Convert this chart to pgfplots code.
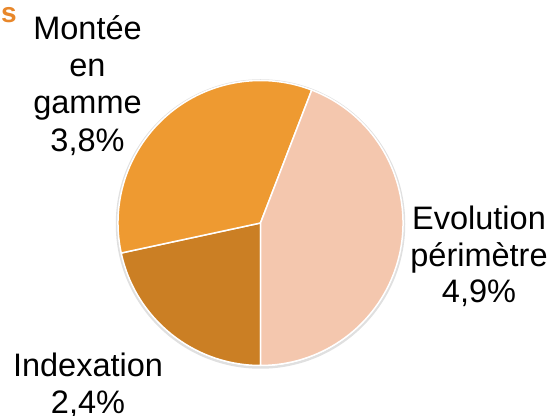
\documentclass[border=0pt]{standalone}
\usepackage{pgfplots}
\pgfplotsset{compat=1.18}
\usepackage{fontspec}
\setmainfont{Liberation Sans}
\definecolor{cEvol}{HTML}{F4C7AE}
\definecolor{cMont}{HTML}{EE9A31}
\definecolor{cIndx}{HTML}{CB7F24}
\definecolor{cTitle}{HTML}{E8872A}
% data (percent)
\def\vIndx{2.4}
\def\vMont{3.8}
\def\vEvol{4.9}
\pgfmathsetmacro\tot{\vIndx+\vMont+\vEvol}
\pgfmathsetmacro\aS{-90}
\pgfmathsetmacro\aA{\aS-360*\vIndx/\tot}
\pgfmathsetmacro\aB{\aA-360*\vMont/\tot}
\pgfmathsetmacro\aC{\aB-360*\vEvol/\tot}
\def\cx{260.5}
\def\cy{193}
\def\R{142.5bp}
\newcommand\lblfont{\fontsize{32.5bp}{37.5bp}\selectfont}
\newcommand\ttlfont{\bfseries\fontsize{28bp}{32bp}\selectfont}
\tikzset{lbl/.style={anchor=base, inner sep=0pt, font=\lblfont},
         ttl/.style={anchor=base east, inner sep=0pt, text=cTitle, font=\ttlfont}}
\begin{document}
\begin{tikzpicture}
\begin{axis}[
  scale only axis, width=553bp, height=416bp,
  xmin=0, xmax=553, ymin=0, ymax=416,
  hide axis, clip=false,
]
% soft shadow
\draw[black!12, line width=2.5bp] (axis cs:\cx,\cy-1) circle[radius=143.5bp];
\fill[cIndx, draw=white, line width=1.5bp, line join=round]
  (axis cs:\cx,\cy) -- ++(\aS:\R) arc[start angle=\aS, end angle=\aA, radius=\R] -- cycle;
\fill[cMont, draw=white, line width=1.5bp, line join=round]
  (axis cs:\cx,\cy) -- ++(\aA:\R) arc[start angle=\aA, end angle=\aB, radius=\R] -- cycle;
\fill[cEvol, draw=white, line width=1.5bp, line join=round]
  (axis cs:\cx,\cy) -- ++(\aB:\R) arc[start angle=\aB, end angle=\aC, radius=\R] -- cycle;
% labels
\node[lbl] at (axis cs:87.5,376.7) {Montée};
\node[lbl] at (axis cs:87.5,339.3) {en};
\node[lbl] at (axis cs:87.5,302.5) {gamme};
\node[lbl] at (axis cs:87.5,264.5) {3,8\%};
\node[lbl] at (axis cs:479,186.5) {Evolution};
\node[lbl] at (axis cs:479,149) {périmètre};
\node[lbl] at (axis cs:479,113.5) {4,9\%};
\node[lbl] at (axis cs:88,39.3) {Indexation};
\node[lbl] at (axis cs:88,2.5) {2,4\%};
\node[ttl] at (axis cs:17,393) {s};
\end{axis}
\pgfresetboundingbox
\path (0,0) rectangle (553bp,416bp);
\end{tikzpicture}
\end{document}
